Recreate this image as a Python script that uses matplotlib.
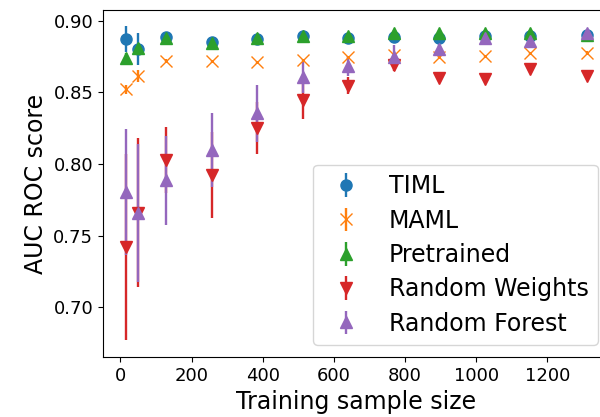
import matplotlib
matplotlib.use("Agg")
import matplotlib.pyplot as plt

# 학습 샘플 크기
sizes = [16, 48, 128, 256, 384, 512, 640, 768, 896, 1024, 1152, 1312]

timl = [0.887, 0.880, 0.8887, 0.8852, 0.8871, 0.8892, 0.8880, 0.8885, 0.8880, 0.8890, 0.8890, 0.8899]
timl_err = [0.009, 0.011, 0.002, 0.002, 0.002, 0.002, 0.002, 0.002, 0.002, 0.002, 0.002, 0.002]

maml = [0.852, 0.8613, 0.872, 0.8716, 0.8709, 0.8725, 0.8743, 0.8760, 0.8748, 0.8753, 0.8771, 0.8776]
maml_err = [0.003, 0.004, 0.001, 0.001, 0.001, 0.001, 0.001, 0.001, 0.001, 0.001, 0.001, 0.001]

pretrained = [0.8736, 0.8806, 0.888, 0.884, 0.8875, 0.889, 0.8895, 0.891, 0.891, 0.8915, 0.891, 0.890]
pretrained_err = [0.004, 0.002, 0.001, 0.001, 0.001, 0.001, 0.001, 0.001, 0.001, 0.001, 0.001, 0.001]

random_weights = [0.742, 0.766, 0.8028, 0.7923, 0.8249, 0.8446, 0.8547, 0.8690, 0.8600, 0.8592, 0.8662, 0.8613]
random_weights_err = [0.065, 0.052, 0.023, 0.030, 0.018, 0.013, 0.006, 0.004, 0.002, 0.002, 0.002, 0.002]

random_forest = [0.7807, 0.766, 0.7888, 0.8097, 0.8353, 0.8604, 0.8685, 0.8748, 0.8800, 0.8876, 0.8857, 0.8910]
random_forest_err = [0.044, 0.048, 0.031, 0.026, 0.020, 0.011, 0.007, 0.008, 0.004, 0.002, 0.002, 0.002]

labels = ["TIML", "MAML", "Pretrained", "Random Weights", "Random Forest"]


def main():
    fig = plt.figure(figsize=(6, 4.17), dpi=100)
    # 오른쪽 축은 그림 밖으로 잘려 있음
    ax = fig.add_axes([0.1717, 0.1439, 0.845, 0.832])

    series = [
        (timl, timl_err, "o"),
        (maml, maml_err, "x"),
        (pretrained, pretrained_err, "^"),
        (random_weights, random_weights_err, "v"),
        (random_forest, random_forest_err, "^"),
    ]
    for (vals, errs, marker), label in zip(series, labels):
        ax.errorbar(sizes, vals, yerr=errs, fmt=marker, markersize=8,
                    elinewidth=1.7, label=label)

    ax.set_xlim(-49, 1376)
    ax.set_ylim(0.6655, 0.9073)
    ax.set_yticks([0.70, 0.75, 0.80, 0.85, 0.90])
    ax.set_xticks([0, 200, 400, 600, 800, 1000, 1200])
    ax.tick_params(labelsize=13)
    ax.set_xlabel("Training sample size", fontsize=17)
    ax.set_ylabel("AUC ROC score", fontsize=17)

    ax.legend(loc="lower right", fontsize=17, labelspacing=0.44)

    fig.savefig("out.png", dpi=100)


if __name__ == "__main__":
    main()
